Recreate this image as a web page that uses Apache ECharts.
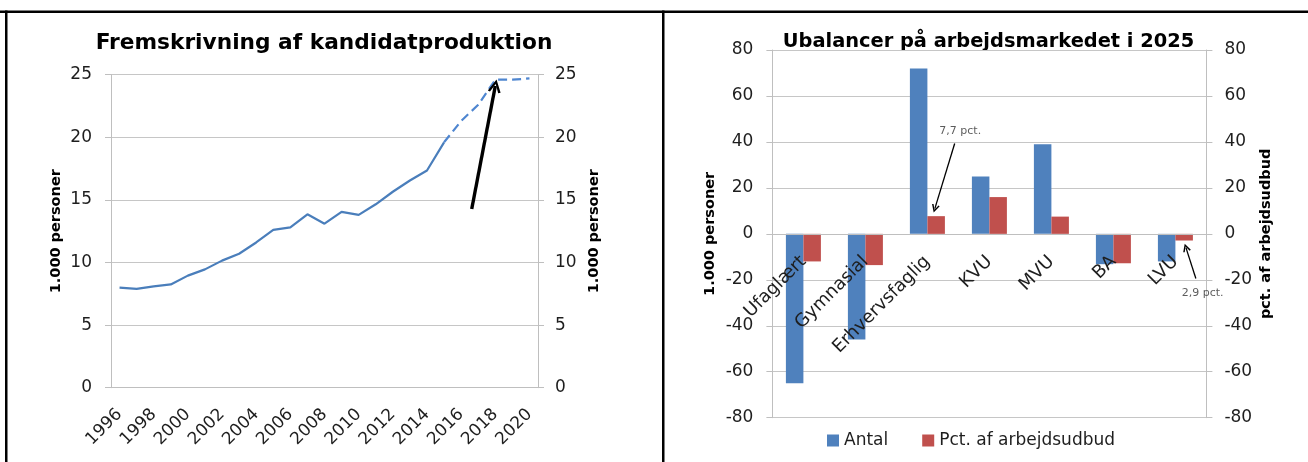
<!DOCTYPE html>
<html>
<head>
<meta charset="utf-8">
<script src="https://cdn.jsdelivr.net/npm/echarts@6/dist/echarts.min.js"></script>
<style>
  html,body{margin:0;padding:0;background:#fff;}
  #c{width:1308px;height:462px;}
</style>
</head>
<body>
<div id="c"></div>
<script>
// ---- Left chart data ----
const years = ['1996','1997','1998','1999','2000','2001','2002','2003','2004','2005','2006','2007','2008','2009','2010','2011','2012','2013','2014','2015','2016','2017','2018','2019','2020'];
const actual = [8.0, 7.9, 8.1, 8.25, 8.95, 9.45, 10.15, 10.7, 11.6, 12.6, 12.8, 13.85, 13.1, 14.05, 13.8, 14.65, 15.65, 16.55, 17.35, 19.6, null, null, null, null, null];
const forecast = [null, null, null, null, null, null, null, null, null, null, null, null, null, null, null, null, null, null, null, 19.6, 21.3, 22.6, 24.6, 24.6, 24.7];
const leftTicks = [0, 5, 10, 15, 20, 25];

// ---- Right chart data ----
const cats = ['Ufaglært','Gymnasial','Erhvervsfaglig','KVU','MVU','BA','LVU'];
const antal = [-65, -46, 72, 25, 39, -13.2, -12];
const pct = [-12, -13.6, 7.7, 16, 7.5, -12.8, -2.9];
const rightTicks = [-80, -60, -40, -20, 0, 20, 40, 60, 80];

// ---- Annotations (data coordinates) ----
const leftArrow = [[20.62, 14.27], [22.0, 24.1]];
const rightArrows = [[[2.44, 39.3], [2.12, 11.0]], [[6.33, -19.4], [6.17, -6.0]]];
const rightNotes = [[2.53, 44.9, '7,7 pct.'], [6.44, -26, '2,9 pct.']];

const FONT = 'DejaVu Sans';
const AX = '#bfbfbf';
const GRID = '#c6c6c6';
const TXT = '#1e1e1e';
const chevron = 'path://M0,10 L5,0 L10,10 L8.2,10.6 L5,3.6 L1.8,10.6 Z';

const chart = echarts.init(document.getElementById('c'), null, {renderer:'canvas'});

function yAx(grid, ticks, interval, pos, name, nameGap, margin) {
  return {
    type:'value', gridIndex:grid, min:ticks[0], max:ticks[ticks.length-1], interval:interval, position:pos,
    name:name, nameLocation:'middle', nameRotate:90, nameGap:nameGap,
    nameTextStyle:{fontFamily:FONT, fontWeight:'bold', fontSize:14.5, color:'#000'},
    axisLine:{show:true, onZero:false, lineStyle:{color:AX, width:1}},
    axisTick:{show:true, length:6, lineStyle:{color:AX}},
    axisLabel:{fontFamily:FONT, fontSize:17, color:TXT, margin:margin},
    splitLine:{show:pos === 'left', lineStyle:{color:GRID, width:1}}
  };
}

// pixel height of right grid, used to place the category axis at the zero line
const rGridTop = 50, rGridH = 367.7;

const option = {
  backgroundColor:'#fff',
  animation:false,
  grid:[
    {left:111, top:74.7, width:427, height:313, containLabel:false, outerBoundsMode:'none'},
    {left:772.4, top:rGridTop, width:434, height:rGridH, containLabel:false, outerBoundsMode:'none'}
  ],
  xAxis:[
    {type:'category', gridIndex:0, data:years, boundaryGap:true,
     axisLine:{onZero:false, lineStyle:{color:AX}},
     axisTick:{interval:0, length:6, lineStyle:{color:AX}},
     axisLabel:{interval:1, rotate:45, fontFamily:FONT, fontSize:17, color:TXT, margin:24},
     splitLine:{show:false}},
    {type:'value', gridIndex:0, min:-0.5, max:24.5, show:false, axisLine:{onZero:false}},
    {type:'category', gridIndex:1, data:cats, boundaryGap:true, position:'bottom', z:10,
     offset:-(rGridH * (0 - rightTicks[0]) / (rightTicks[rightTicks.length-1] - rightTicks[0])),
     axisLine:{onZero:false, lineStyle:{color:AX}},
     axisTick:{interval:0, length:5, lineStyle:{color:AX}},
     axisLabel:{interval:0, rotate:45, fontFamily:FONT, fontSize:18, color:TXT, margin:25},
     splitLine:{show:false}},
    {type:'value', gridIndex:1, min:-0.5, max:6.5, show:false, axisLine:{onZero:false}}
  ],
  yAxis:[
    yAx(0, leftTicks, 5, 'left', '1.000 personer', 47, 19),
    yAx(0, leftTicks, 5, 'right', '1.000 personer', 49, 17),
    yAx(1, rightTicks, 20, 'left', '1.000 personer', 55, 19),
    yAx(1, rightTicks, 20, 'right', 'pct. af arbejdsudbud', 52, 18)
  ],
  legend:{
    data:['Antal','Pct. af arbejdsudbud'],
    left:822, top:427, itemWidth:12, itemHeight:12, itemGap:34, icon:'rect',
    textStyle:{fontFamily:FONT, fontSize:17, color:TXT}
  },
  graphic:[
    {type:'text', x:324, y:43, style:{text:'Fremskrivning af kandidatproduktion', font:'bold 21.7px "DejaVu Sans"', fill:'#000', textAlign:'center', textVerticalAlign:'middle'}},
    {type:'text', x:988.5, y:42, style:{text:'Ubalancer på arbejdsmarkedet i 2025', font:'bold 19.4px "DejaVu Sans"', fill:'#000', textAlign:'center', textVerticalAlign:'middle'}},
    {type:'rect', shape:{x:0, y:10.5, width:1308, height:2.5}, style:{fill:'#000'}, z:100},
    {type:'rect', shape:{x:5, y:10.5, width:2.5, height:452}, style:{fill:'#000'}, z:100},
    {type:'rect', shape:{x:662, y:10.5, width:2.5, height:452}, style:{fill:'#000'}, z:100}
  ],
  series:[
    {name:'Kandidater', type:'line', xAxisIndex:0, yAxisIndex:0, data:actual, showSymbol:false, symbol:'none',
     lineStyle:{color:'#4A7EBB', width:2.2}, itemStyle:{color:'#4A7EBB'}, connectNulls:false},
    {name:'Fremskrivning', type:'line', xAxisIndex:0, yAxisIndex:0, data:forecast, showSymbol:false, symbol:'none',
     lineStyle:{color:'#4F86D0', width:2.2, type:[9,5]}, itemStyle:{color:'#4F86D0'}, connectNulls:false},
    {name:'pil', type:'lines', coordinateSystem:'cartesian2d', xAxisIndex:1, yAxisIndex:0,
     symbol:['none', chevron], symbolSize:[16,13],
     lineStyle:{color:'#000', width:3.4, opacity:1, curveness:0},
     data:[{coords:leftArrow}], z:10},
    {name:'Antal', type:'bar', xAxisIndex:2, yAxisIndex:2, data:antal, barWidth:17.5, barGap:'0%',
     itemStyle:{color:'#4F81BD'}},
    {name:'Pct. af arbejdsudbud', type:'bar', xAxisIndex:2, yAxisIndex:3, data:pct, barWidth:17.5, barGap:'0%',
     itemStyle:{color:'#C0504D'}},
    {name:'pile', type:'lines', coordinateSystem:'cartesian2d', xAxisIndex:3, yAxisIndex:2,
     symbol:['none', chevron], symbolSize:[8,8],
     lineStyle:{color:'#000', width:1.3, opacity:1, curveness:0},
     data:rightArrows.map(a => ({coords:a})), z:10},
    {name:'noter', type:'scatter', xAxisIndex:3, yAxisIndex:2, symbolSize:0, silent:true,
     data:rightNotes.map(n => ({value:[n[0], n[1]], note:n[2]})),
     label:{show:true, position:'inside', formatter:p => p.data.note, fontFamily:FONT, fontSize:11, color:'#333'}, z:10}
  ]
};
chart.setOption(option);
</script>
</body>
</html>
